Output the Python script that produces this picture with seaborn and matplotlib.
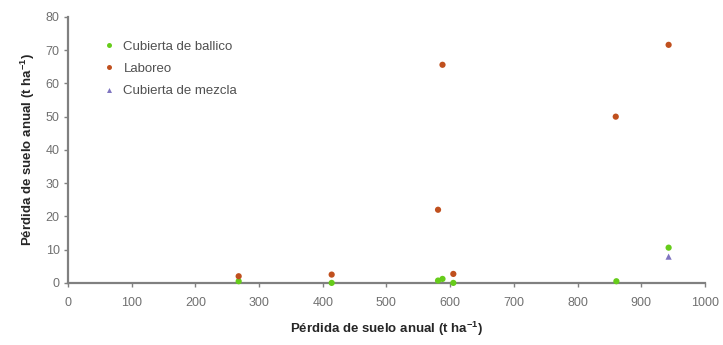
import pandas as pd
import matplotlib.pyplot as plt
import seaborn as sns

# values
ballico_x = [268, 414, 581, 588, 605, 861, 943]
ballico_y = [0.5, 0.0, 0.7, 1.2, 0.0, 0.5, 10.6]
laboreo_x = [268, 414, 581, 588, 605, 860, 943]
laboreo_y = [2.0, 2.5, 22.0, 65.6, 2.7, 50.0, 71.6]
mezcla_x = [943]
mezcla_y = [7.9]

series = ["Cubierta de ballico", "Laboreo", "Cubierta de mezcla"]
colors = ["#66cc1a", "#c0501e", "#7f74c0"]
markers = ["o", "o", "^"]

df = pd.concat([
    pd.DataFrame({"x": ballico_x, "y": ballico_y, "serie": series[0]}),
    pd.DataFrame({"x": laboreo_x, "y": laboreo_y, "serie": series[1]}),
    pd.DataFrame({"x": mezcla_x, "y": mezcla_y, "serie": series[2]}),
])

sns.set_style("white")
plt.rcParams["font.family"] = ["Liberation Sans", "DejaVu Sans"]

fig = plt.figure(figsize=(7.23, 3.45), dpi=100)
ax = fig.add_axes([0.094, 0.18, 0.881, 0.771])

sns.scatterplot(data=df, x="x", y="y", hue="serie", style="serie",
                palette=dict(zip(series, colors)),
                markers=dict(zip(series, markers)),
                s=20, edgecolor="none", ax=ax, zorder=3, clip_on=False)

ax.set_xlim(0, 1000)
ax.set_ylim(0, 80)
ax.set_xticks(range(0, 1001, 100))
ax.set_yticks(range(0, 81, 10))

lab = "Pérdida de suelo anual (t ha$^{\\mathregular{-1}}$)"
ax.set_xlabel(lab, fontsize=9.5, fontweight="bold", labelpad=8)
ax.set_ylabel(lab, fontsize=9.5, fontweight="bold", labelpad=6)

for side in ["top", "right"]:
    ax.spines[side].set_visible(False)
for side in ["left", "bottom"]:
    ax.spines[side].set_color("#808080")
    ax.spines[side].set_linewidth(1.6)
ax.tick_params(axis="both", colors="#808080", labelcolor="#707070",
               labelsize=9, length=3, width=1, direction="out")
ax.tick_params(axis="x", pad=7)
ax.tick_params(axis="y", pad=3)
ax.tick_params(left=True, bottom=True)

leg = ax.legend(loc="upper left", bbox_to_anchor=(0.025, 0.955), frameon=False,
                fontsize=9.5, handletextpad=0.1, markerscale=0.8,
                labelspacing=0.75)
for t in leg.get_texts():
    t.set_color("#505050")

fig.savefig("out.png", dpi=100)
